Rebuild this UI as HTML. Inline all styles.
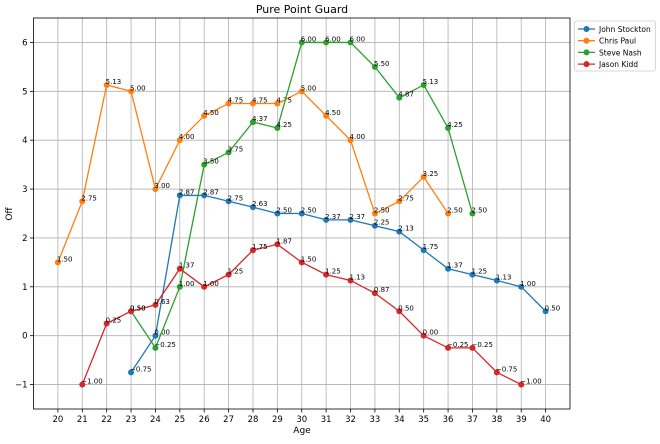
<!DOCTYPE html>
<html><head><meta charset="utf-8"><style>
body{margin:0;background:#fff;font-family:"Liberation Sans","DejaVu Sans",sans-serif;}
svg text{font-family:"DejaVu Sans","Liberation Sans",sans-serif;}
</style></head><body>
<svg id="chart" width="660" height="439" xmlns="http://www.w3.org/2000/svg">
<rect width="660" height="439" fill="#fff"/>
<text x="302" y="13" text-anchor="middle" font-size="11" fill="#000">Pure Point Guard</text>
<text x="302" y="433" text-anchor="middle" font-size="9" fill="#000">Age</text>
<text x="12" y="214" text-anchor="middle" font-size="9" fill="#000" transform="rotate(-90 12 214)">Off</text>
<g id="grid"></g>
<g id="series"></g>
<rect x="33.5" y="18" width="536.5" height="391" fill="none" stroke="#000" stroke-width="0.8"/>
<g id="ticks"></g>
<g id="legend"></g>
</svg>
<script>
const ages = [20,21,22,23,24,25,26,27,28,29,30,31,32,33,34,35,36,37,38,39,40];
const yTicks = [-1,0,1,2,3,4,5,6];
const seriesNames = ["John Stockton","Chris Paul","Steve Nash","Jason Kidd"];
const seriesColors = ["#1f77b4","#ff7f0e","#2ca02c","#d62728"];
const stocktonAges = [23,24,25,26,27,28,29,30,31,32,33,34,35,36,37,38,39,40];
const stocktonVals = [-0.75,0.00,2.87,2.87,2.75,2.63,2.50,2.50,2.37,2.37,2.25,2.13,1.75,1.37,1.25,1.13,1.00,0.50];
const paulAges = [20,21,22,23,24,25,26,27,28,29,30,31,32,33,34,35,36];
const paulVals = [1.50,2.75,5.13,5.00,3.00,4.00,4.50,4.75,4.75,4.75,5.00,4.50,4.00,2.50,2.75,3.25,2.50];
const nashAges = [23,24,25,26,27,28,29,30,31,32,33,34,35,36,37];
const nashVals = [0.50,-0.25,1.00,3.50,3.75,4.37,4.25,6.00,6.00,6.00,5.50,4.87,5.13,4.25,2.50];
const kiddAges = [21,22,23,24,25,26,27,28,29,30,31,32,33,34,35,36,37,38,39];
const kiddVals = [-1.00,0.25,0.50,0.63,1.37,1.00,1.25,1.75,1.87,1.50,1.25,1.13,0.87,0.50,0.00,-0.25,-0.25,-0.75,-1.00];

const X0=33.5,X1=570,Y0=18,Y1=409,xmin=19,xmax=41,ymin=-1.5,ymax=6.5;
const xs=v=>X0+(v-xmin)/(xmax-xmin)*(X1-X0);
const ys=v=>Y1-(v-ymin)/(ymax-ymin)*(Y1-Y0);
const NS="http://www.w3.org/2000/svg";
function mk(t,a,p){const e=document.createElementNS(NS,t);for(const k in a)e.setAttribute(k,a[k]);p.appendChild(e);return e;}
const grid=document.getElementById('grid'),ticks=document.getElementById('ticks'),ser=document.getElementById('series'),leg=document.getElementById('legend');
ages.forEach(a=>{
  const l=mk('line',{x1:xs(a),x2:xs(a),y1:Y0,y2:Y1,stroke:'#b0b0b0','stroke-width':0.8},grid);
  
  
  mk('line',{x1:xs(a),x2:xs(a),y1:Y1,y2:Y1+3.5,stroke:'#000','stroke-width':0.8},ticks);
  const t=mk('text',{x:xs(a),y:Y1+13,'text-anchor':'middle','font-size':8.5,fill:'#000'},ticks);
  t.textContent=a;
  
  
});
yTicks.forEach(v=>{
  const l=mk('line',{x1:X0,x2:X1,y1:ys(v),y2:ys(v),stroke:'#b0b0b0','stroke-width':0.8},grid);
  
  
  mk('line',{x1:X0-3.5,x2:X0,y1:ys(v),y2:ys(v),stroke:'#000','stroke-width':0.8},ticks);
  const t=mk('text',{x:X0-6,y:ys(v)+3,'text-anchor':'end','font-size':8.5,fill:'#000'},ticks);
  t.textContent=v<0?'\u2212'+Math.abs(v):v;
  
  
});
const allAges=[stocktonAges,paulAges,nashAges,kiddAges],allVals=[stocktonVals,paulVals,nashVals,kiddVals];
allVals.forEach((vals,i)=>{
  const g=mk('g',{},ser);
  
  
  const pts=vals.map((v,j)=>xs(allAges[i][j])+','+ys(v)).join(' ');
  mk('polyline',{points:pts,fill:'none',stroke:seriesColors[i],'stroke-width':1.3},g);
  vals.forEach((v,j)=>{
    const c=mk('circle',{cx:xs(allAges[i][j]),cy:ys(v),r:3,fill:seriesColors[i]},g);
    
    
    const t=mk('text',{x:xs(allAges[i][j])-1,y:ys(v)-1,'font-size':7,fill:'#000'},g);
    t.textContent=(v<0?'\u2212':'')+Math.abs(v).toFixed(2);
    
    
  });
});
const lb=mk('rect',{x:574.5,y:21,width:81,height:50,fill:'#fff',stroke:'#ccc','stroke-width':0.8,rx:2},leg);


seriesNames.forEach((n,i)=>{
  const y=29+i*11.7;
  const g=mk('g',{},leg);
  
  
  mk('line',{x1:578,x2:595,y1:y,y2:y,stroke:seriesColors[i],'stroke-width':1.3},g);
  mk('circle',{cx:586.5,cy:y,r:3,fill:seriesColors[i]},g);
  const t=mk('text',{x:599,y:y+3,'font-size':7.5,fill:'#000'},g);
  t.textContent=n;
});
</script>
</body></html>
